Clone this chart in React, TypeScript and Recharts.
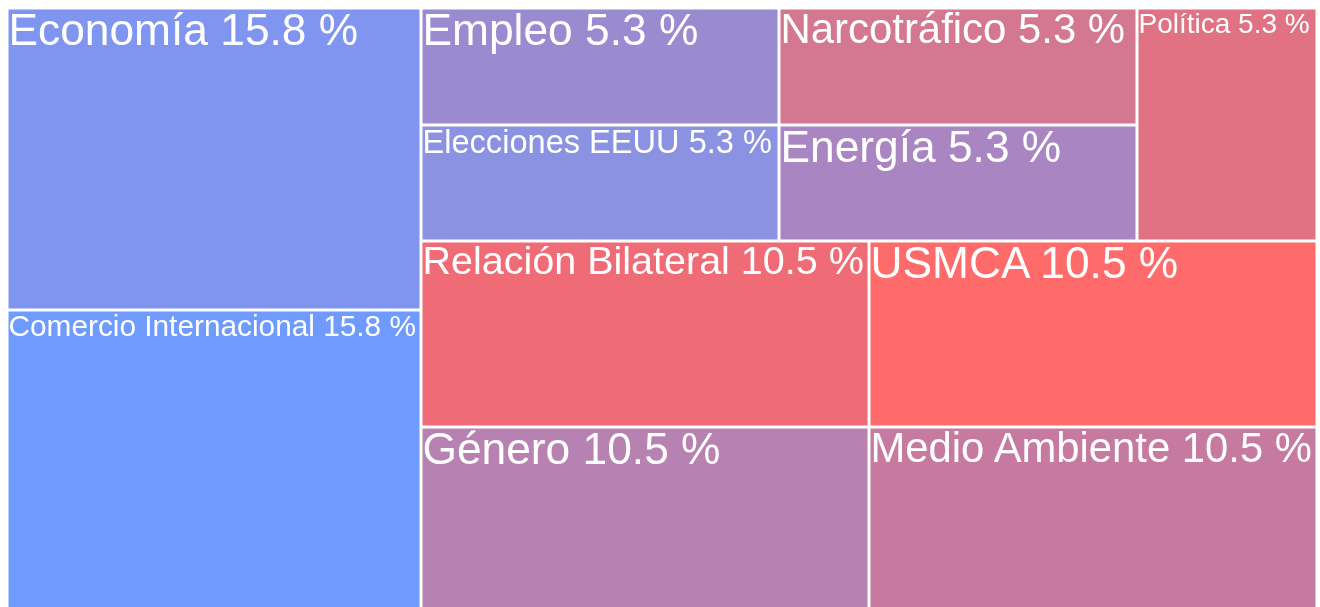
import React from 'react';
import { Treemap } from 'recharts';

// ---- Data ----
const categories = [
  'Economía',
  'Comercio Internacional',
  'Empleo',
  'Elecciones EEUU',
  'Narcotráfico',
  'Energía',
  'Política',
  'Relación Bilateral',
  'Género',
  'USMCA',
  'Medio Ambiente',
];
const counts = [3, 3, 1, 1, 1, 1, 1, 2, 2, 2, 2];
// layout block each category belongs to
const blocks = ['main', 'main', 'top', 'top', 'top', 'top', 'top', 'bottom', 'bottom', 'bottom', 'bottom'];

// ---- Styles ----
const COLORS: Record<string, string> = {
  'Economía': '#7F95F0',
  'Comercio Internacional': '#6F9BFF',
  'Empleo': '#9A8BD0',
  'Elecciones EEUU': '#8B92E1',
  'Narcotráfico': '#D47791',
  'Energía': '#A985C2',
  'Política': '#E07284',
  'Relación Bilateral': '#EF6C77',
  'Género': '#B782B2',
  'USMCA': '#FF6A6A',
  'Medio Ambiente': '#C67AA0',
};
const FONT_SIZES: Record<string, number> = {
  'Economía': 44.3,
  'Comercio Internacional': 29.8,
  'Empleo': 44.3,
  'Elecciones EEUU': 32.6,
  'Narcotráfico': 41.9,
  'Energía': 44.3,
  'Política': 28,
  'Relación Bilateral': 39.5,
  'Género': 44.3,
  'USMCA': 44.3,
  'Medio Ambiente': 41.8,
};

const total = counts.reduce((a, b) => a + b, 0);
const leaf = (i: number) => ({
  name: categories[i],
  value: counts[i],
  pct: ((counts[i] / total) * 100).toFixed(1),
});
const inBlock = (b: string) => categories.map((_, i) => i).filter((i) => blocks[i] === b);

const treeData = [
  ...inBlock('main').map(leaf),
  {
    name: '__right',
    children: [
      { name: '__top', children: inBlock('top').map(leaf) },
      { name: '__bottom', children: inBlock('bottom').map(leaf) },
    ],
  },
];

const GAP = 1.5;

function renderCell(props: any) {
  const { x, y, width, height, name, pct } = props;
  if (!(name in COLORS)) return <g />;
  const fs = FONT_SIZES[name] ?? 30;
  return (
    <g>
      <rect
        x={x + GAP}
        y={y + GAP}
        width={Math.max(0, width - 2 * GAP)}
        height={Math.max(0, height - 2 * GAP)}
        fill={COLORS[name]}
      />
      <text
        x={x + GAP}
        y={y + 4 + 0.736 * fs}
        fill="#ffffff"
        fontSize={fs}
        fontFamily="'Liberation Sans', Arial, sans-serif"
      >
        {`${name} ${pct} %`}
      </text>
    </g>
  );
}

export default function App() {
  return (
    <div style={{ position: 'fixed', top: 8, left: 6.5, width: 1310, height: 605 }}>
      <style>{`svg { overflow: visible !important; }`}</style>
      <Treemap
        width={1310}
        height={605}
        data={treeData}
        dataKey="value"
        nameKey="name"
        isAnimationActive={false}
        content={renderCell as any}
      />
    </div>
  );
}
